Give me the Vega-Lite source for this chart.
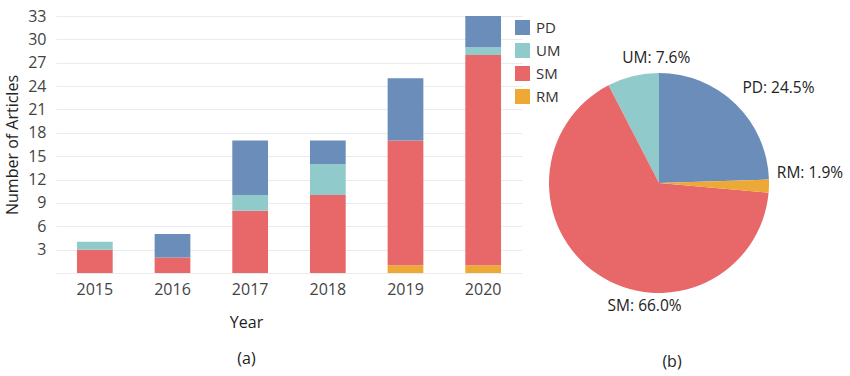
{
  "$schema": "https://vega.github.io/schema/vega-lite/v6.json",
  "padding": {"left": 4, "top": 8, "right": 0, "bottom": 20},
  "background": "white",
  "bounds": "flush",
  "config": {"view": {"stroke": null}, "font": "Open Sans"},
  "datasets": {
    "bars": [
      {"year": "2015", "cat": "SM", "n": 3},
      {"year": "2015", "cat": "UM", "n": 1},
      {"year": "2016", "cat": "SM", "n": 2},
      {"year": "2016", "cat": "PD", "n": 3},
      {"year": "2017", "cat": "SM", "n": 8},
      {"year": "2017", "cat": "UM", "n": 2},
      {"year": "2017", "cat": "PD", "n": 7},
      {"year": "2018", "cat": "SM", "n": 10},
      {"year": "2018", "cat": "UM", "n": 4},
      {"year": "2018", "cat": "PD", "n": 3},
      {"year": "2019", "cat": "RM", "n": 1},
      {"year": "2019", "cat": "SM", "n": 16},
      {"year": "2019", "cat": "PD", "n": 8},
      {"year": "2020", "cat": "RM", "n": 1},
      {"year": "2020", "cat": "SM", "n": 27},
      {"year": "2020", "cat": "UM", "n": 1},
      {"year": "2020", "cat": "PD", "n": 4}
    ],
    "pie": [
      {"cat": "PD", "pct": 24.5},
      {"cat": "UM", "pct": 7.6},
      {"cat": "SM", "pct": 66.0},
      {"cat": "RM", "pct": 1.9}
    ]
  },
  "spacing": 27,
  "resolve": {"scale": {"color": "independent"}, "legend": {"color": "independent"}},
  "hconcat": [
    {
      "data": {"name": "bars"},
      "width": 466,
      "height": 257,
      "transform": [{"calculate": "indexof(['RM','SM','UM','PD'], datum.cat)", "as": "o"}],
      "mark": {"type": "bar"},
      "encoding": {
        "x": {
          "field": "year", "type": "ordinal",
          "scale": {"paddingInner": 0.54, "paddingOuter": 0.27},
          "axis": {
            "labelAngle": 0, "labelFontSize": 16, "labelColor": "#444", "labelPadding": 8,
            "domain": false, "ticks": false, "tickSize": 0,
            "title": ["Year", "(a)"], "titleFontSize": 16, "titleFontWeight": "normal",
            "titleColor": "#222", "titleLineHeight": 36, "titlePadding": 17, "titleX": 190
          }
        },
        "y": {
          "field": "n", "type": "quantitative", "stack": "zero",
          "scale": {"domain": [0, 33], "nice": false},
          "axis": {
            "values": [0, 3, 6, 9, 12, 15, 18, 21, 24, 27, 30, 33],
            "labelExpr": "datum.value == 0 ? '' : datum.label",
            "labelFontSize": 16, "labelColor": "#444", "labelPadding": 10,
            "domain": false, "ticks": false, "tickSize": 0,
            "grid": true, "gridColor": "#ebebeb", "gridWidth": 1,
            "title": "Number of Articles", "titleFontSize": 16, "titleFontWeight": "normal",
            "titleColor": "#222", "titlePadding": 7
          }
        },
        "color": {
          "field": "cat", "type": "nominal",
          "scale": {"domain": ["PD", "UM", "SM", "RM"], "range": ["#6a8db9", "#90caca", "#e8686a", "#eda935"]},
          "legend": {
            "orient": "none", "legendX": 459, "legendY": 4, "title": null,
            "symbolType": "square", "symbolSize": 225, "symbolOpacity": 1, "symbolStrokeWidth": 0,
            "labelFontSize": 15, "labelColor": "#333", "rowPadding": 7, "labelOffset": 6, "padding": 0
          }
        },
        "order": {"field": "o", "type": "quantitative"}
      }
    },
    {
      "data": {"name": "pie"},
      "width": 220,
      "height": 334,
      "title": {"text": "(b)", "orient": "bottom", "fontSize": 16, "fontWeight": "normal", "font": "Open Sans", "color": "#222", "offset": 4, "dx": 13},
      "transform": [
        {"calculate": "indexof(['PD','RM','SM','UM'], datum.cat)", "as": "o"},
        {"calculate": "datum.cat + ': ' + format(datum.pct, '.1f') + '%'", "as": "label"},
        {"stack": "pct", "groupby": [], "sort": [{"field": "o", "order": "ascending"}], "as": ["t0", "t1"]},
        {"calculate": "(datum.t0 + datum.t1) / 2", "as": "tm"}
      ],
      "layer": [
        {
          "mark": {"type": "arc", "outerRadius": 110},
          "encoding": {
            "theta": {"field": "t0", "type": "quantitative", "scale": {"domain": [0, 100]}},
            "theta2": {"field": "t1"},
            "color": {
              "field": "cat", "type": "nominal",
              "scale": {"domain": ["PD", "UM", "SM", "RM"], "range": ["#6a8db9", "#90caca", "#e8686a", "#eda935"]},
              "legend": null
            }
          }
        },
        {
          "transform": [{"filter": "datum.cat == 'PD'"}],
          "mark": {"type": "text", "radius": 130, "dx": 29, "dy": -2, "fontSize": 15.5, "color": "#222", "align": "center", "baseline": "middle"},
          "encoding": {"theta": {"field": "tm", "type": "quantitative"}, "text": {"field": "label"}}
        },
        {
          "transform": [{"filter": "datum.cat == 'UM'"}],
          "mark": {"type": "text", "radius": 130, "dx": 28, "dy": 1, "fontSize": 15.5, "color": "#222", "align": "center", "baseline": "middle"},
          "encoding": {"theta": {"field": "tm", "type": "quantitative"}, "text": {"field": "label"}}
        },
        {
          "transform": [{"filter": "datum.cat == 'RM'"}],
          "mark": {"type": "text", "radius": 130, "dx": 21, "dy": -14, "fontSize": 15.5, "color": "#222", "align": "center", "baseline": "middle"},
          "encoding": {"theta": {"field": "tm", "type": "quantitative"}, "text": {"field": "label"}}
        },
        {
          "transform": [{"filter": "datum.cat == 'SM'"}],
          "mark": {"type": "text", "radius": 130, "dx": 58, "dy": 15, "fontSize": 15.5, "color": "#222", "align": "center", "baseline": "middle"},
          "encoding": {"theta": {"field": "tm", "type": "quantitative"}, "text": {"field": "label"}}
        }
      ]
    }
  ]
}
